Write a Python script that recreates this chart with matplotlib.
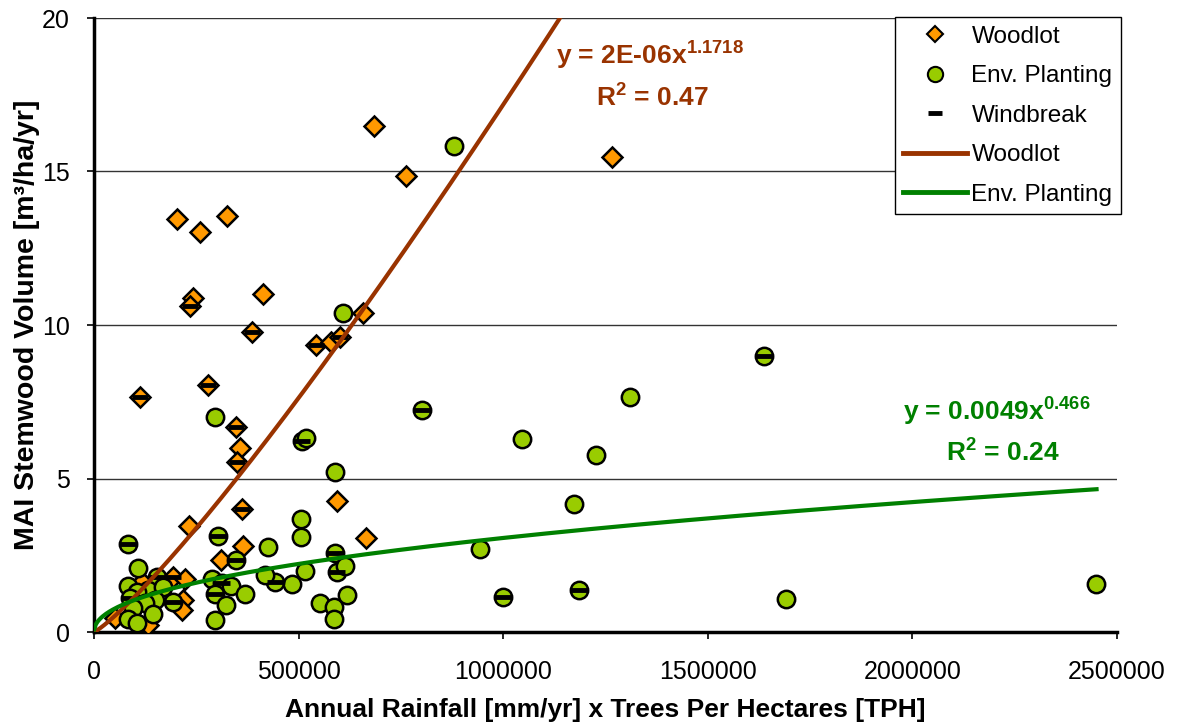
import numpy as np
import matplotlib
matplotlib.use("Agg")
import matplotlib.pyplot as plt
from matplotlib.lines import Line2D

plt.rcParams['font.family'] = ['Liberation Sans', 'DejaVu Sans']
plt.rcParams['mathtext.fontset'] = 'custom'
plt.rcParams['mathtext.rm'] = 'Liberation Sans'
plt.rcParams['mathtext.bf'] = 'Liberation Sans:bold'

# ---- data (x in millions of mm/yr*TPH, y in m3/ha/yr) ----
woodlot_x = [0.202, 0.258, 0.324, 0.241, 0.235, 0.412, 0.385, 0.112, 0.278, 0.348,
             0.358, 0.349, 0.593, 0.542, 0.578, 0.601, 0.658, 0.684, 0.762, 1.266,
             0.665, 0.233, 0.362, 0.365, 0.310, 0.192, 0.222, 0.117, 0.218, 0.216,
             0.133, 0.051]
woodlot_y = [13.45, 13.04, 13.55, 10.87, 10.62, 11.01, 9.78, 7.66, 8.04, 6.69,
             5.99, 5.55, 4.27, 9.36, 9.44, 9.62, 10.40, 16.48, 14.85, 15.47,
             3.05, 3.46, 4.01, 2.81, 2.35, 1.78, 1.72, 1.64, 1.04, 0.72,
             0.23, 0.45]

env_x = [0.880, 0.608, 0.802, 1.310, 1.637, 1.046, 1.228, 1.173, 0.943, 0.999,
         1.185, 1.691, 2.449, 0.296, 0.508, 0.518, 0.588, 0.506, 0.505, 0.589,
         0.595, 0.613, 0.515, 0.483, 0.442, 0.552, 0.587, 0.587, 0.619, 0.302,
         0.426, 0.346, 0.289, 0.312, 0.334, 0.369, 0.296, 0.322, 0.296, 0.418,
         0.082, 0.108, 0.084, 0.153, 0.133, 0.104, 0.169, 0.088, 0.149, 0.125,
         0.096, 0.194, 0.143, 0.084, 0.104]
env_y = [15.83, 10.39, 7.23, 7.65, 8.99, 6.29, 5.77, 4.17, 2.70, 1.14,
         1.37, 1.07, 1.56, 7.00, 6.22, 6.32, 5.22, 3.68, 3.09, 2.58,
         1.96, 2.15, 1.99, 1.56, 1.64, 0.95, 0.82, 0.41, 1.21, 3.14,
         2.78, 2.35, 1.73, 1.59, 1.50, 1.24, 1.24, 0.88, 0.39, 1.86,
         2.87, 2.07, 1.50, 1.80, 1.37, 1.31, 1.48, 1.10, 1.04, 0.93,
         0.77, 0.99, 0.59, 0.41, 0.30]

windbreak_x = [0.235, 0.385, 0.112, 0.278, 0.348, 0.349, 0.542, 0.601, 0.362, 0.192,
               0.802, 1.637, 0.999, 1.185, 0.508, 0.589, 0.595, 0.442, 0.302, 0.346,
               0.312, 0.296, 0.082, 0.153, 0.088, 0.194]
windbreak_y = [10.62, 9.78, 7.66, 8.04, 6.69, 5.55, 9.36, 9.62, 4.01, 1.78,
               7.23, 8.99, 1.14, 1.37, 6.22, 2.58, 1.96, 1.64, 3.14, 2.35,
               1.59, 1.24, 2.87, 1.80, 1.10, 0.99]

# power trendline parameters (y = a * x^b, x in raw units)
woodlot_a, woodlot_b = 1.6e-6, 1.1718
env_a, env_b = 0.0049, 0.466
woodlot_x_max = 1.2e6
env_x_max = 2.45e6

x_ticks = [0, 500000, 1000000, 1500000, 2000000, 2500000]
y_ticks = [0, 5, 10, 15, 20]

# ---- figure ----
fig = plt.figure(figsize=(11.77, 7.27), dpi=100)
ax = fig.add_axes([94/1177, 1 - 632/727, (1117-94)/1177, (632-18)/727])

wx = np.array(woodlot_x) * 1e6
ex = np.array(env_x) * 1e6
bx = np.array(windbreak_x) * 1e6

ax.plot(wx, woodlot_y, linestyle='none', marker='D', markersize=10.5,
        markerfacecolor='#FF9900', markeredgecolor='black', markeredgewidth=1.8, zorder=3)
ax.plot(ex, env_y, linestyle='none', marker='o', markersize=12.5,
        markerfacecolor='#99CC00', markeredgecolor='black', markeredgewidth=1.8, zorder=4)
ax.plot(bx, windbreak_y, linestyle='none', marker='_', markersize=11,
        markeredgecolor='black', markeredgewidth=3.5, zorder=5)

xx = np.linspace(1000, woodlot_x_max, 400)
ax.plot(xx, woodlot_a * xx ** woodlot_b, color='#993300', linewidth=3, zorder=6)
xe = np.linspace(500, env_x_max, 600)
ax.plot(xe, env_a * xe ** env_b, color='#008000', linewidth=3, zorder=6)

ax.set_xlim(0, 2500000)
ax.set_ylim(0, 20)
ax.set_xticks(x_ticks)
ax.set_xticklabels([str(v) for v in x_ticks])
ax.set_yticks(y_ticks)
ax.tick_params(axis='both', labelsize=18, direction='out', length=5, width=1.2, colors='black')
ax.tick_params(axis='x', pad=15)
ax.tick_params(axis='y', pad=12.5)

ax.grid(axis='y', color='#333333', linewidth=1)
ax.set_axisbelow(True)
ax.spines['top'].set_visible(False)
ax.spines['right'].set_visible(False)
ax.spines['left'].set_linewidth(2.5)
ax.spines['bottom'].set_linewidth(2.5)

ax.set_xlabel('Annual Rainfall [mm/yr] x Trees Per Hectares [TPH]', fontsize=19,
              fontweight='bold', labelpad=10)
ax.set_ylabel('MAI Stemwood Volume [m³/ha/yr]', fontsize=20.5, fontweight='bold', labelpad=1)

# trendline equations
ax.text(650/1177, 1 - 55/727, r'y = 2E-06x$^{\mathbf{1.1718}}$', transform=fig.transFigure,
        ha='center', va='center', fontsize=19, fontweight='bold', color='#993300')
ax.text(652/1177, 1 - 97/727, r'R$^{\mathbf{2}}$ = 0.47', transform=fig.transFigure,
        ha='center', va='center', fontsize=19, fontweight='bold', color='#993300')
ax.text(997/1177, 1 - 411/727, r'y = 0.0049x$^{\mathbf{0.466}}$', transform=fig.transFigure,
        ha='center', va='center', fontsize=19, fontweight='bold', color='#008000')
ax.text(1003/1177, 1 - 452/727, r'R$^{\mathbf{2}}$ = 0.24', transform=fig.transFigure,
        ha='center', va='center', fontsize=19, fontweight='bold', color='#008000')

handles = [
    Line2D([], [], linestyle='none', marker='D', markersize=8, markerfacecolor='#FF9900',
           markeredgecolor='black', markeredgewidth=1.5),
    Line2D([], [], linestyle='none', marker='o', markersize=11, markerfacecolor='#99CC00',
           markeredgecolor='black', markeredgewidth=1.5),
    Line2D([], [], linestyle='none', marker='_', markersize=10, markeredgecolor='black',
           markeredgewidth=3.5),
    Line2D([], [], color='#993300', linewidth=3.5),
    Line2D([], [], color='#008000', linewidth=3.5),
]
labels = ['Woodlot', 'Env. Planting', 'Windbreak', 'Woodlot', 'Env. Planting']
leg = fig.legend(handles, labels, loc='upper right', bbox_to_anchor=(1121/1177, 1 - 17/727),
                 fontsize=17.5, frameon=True, fancybox=False, framealpha=1,
                 edgecolor='black', handlelength=2.6, handletextpad=0.2,
                 labelspacing=0.72, borderpad=0.35, borderaxespad=0)
leg.get_frame().set_linewidth(1)
leg.set_zorder(10)

fig.savefig('out.png', dpi=100)
